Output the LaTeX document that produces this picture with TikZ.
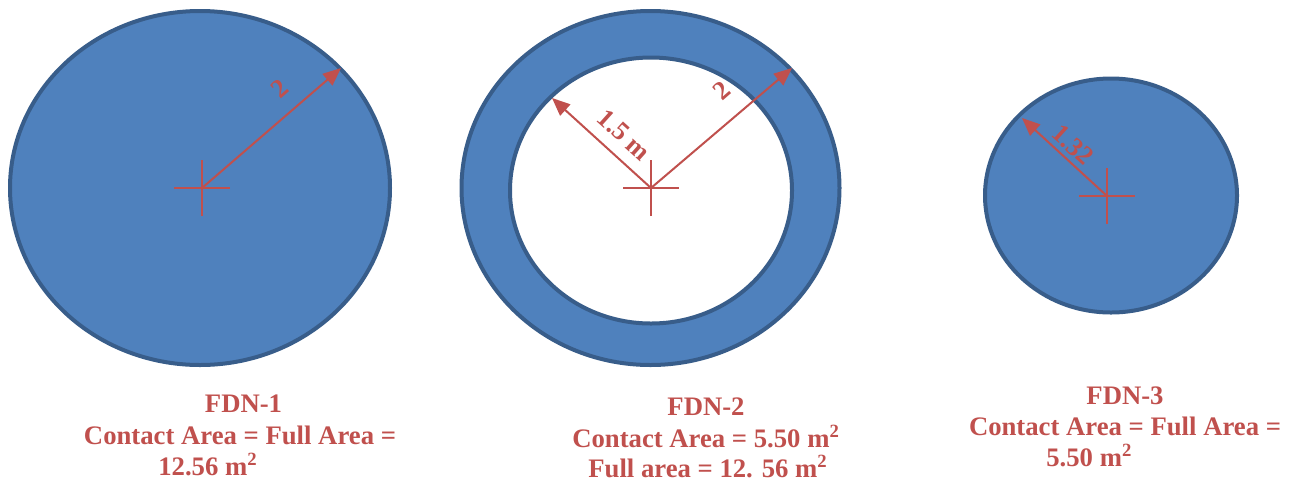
\documentclass[tikz,border=0pt]{standalone}
\usepackage{fontspec}
\setmainfont{Liberation Serif}
\usetikzlibrary{arrows.meta}
\definecolor{fillblue}{HTML}{4F81BD}
\definecolor{edgeblue}{HTML}{385D8A}
\definecolor{txtred}{HTML}{C0504D}
\tikzset{
  disc/.style={fill=fillblue, draw=edgeblue, line width=0.08cm},
  hole/.style={fill=white, draw=edgeblue, line width=0.08cm},
  crossln/.style={draw=txtred, line width=0.03cm},
  radarrow/.style={draw=txtred, line width=0.04cm, -{Triangle[length=0.36cm,width=0.3cm]}},
  dimlbl/.style={text=txtred, font=\bfseries\fontsize{15}{18}\selectfont, inner sep=0pt},
  caption/.style={text=txtred, font=\bfseries\fontsize{15.2}{18}\selectfont, inner sep=0pt},
}
\begin{document}
\begin{tikzpicture}[x=0.02cm, y=-0.02cm]
\useasboundingbox (0,0) rectangle (1294,481);
% shapes
\draw[disc] (200,188) ellipse [x radius=190, y radius=177];
\draw[disc] (650.5,188) ellipse [x radius=189, y radius=177];
\draw[hole] (651,190.5) ellipse [x radius=141, y radius=133];
\draw[disc] (1111,195.5) ellipse [x radius=126, y radius=117];
% centres
\coordinate (c1) at (202,188);
\coordinate (c2) at (651,188);
\coordinate (c3) at (1107,196);
\coordinate (t1) at (341,68);
\coordinate (t2a) at (792,68);
\coordinate (t2b) at (552,98);
\coordinate (t3) at (1022,118);
\foreach \c in {c1,c2,c3}{
  \draw[crossln] ([xshift=-0.56cm]\c) -- ([xshift=0.56cm]\c);
  \draw[crossln] ([yshift=-0.56cm]\c) -- ([yshift=0.56cm]\c);
}
\draw[radarrow] (c1) -- (t1);
\draw[radarrow] (c2) -- (t2a);
\draw[radarrow] (c2) -- (t2b);
\draw[radarrow] (c3) -- (t3);
% dimension labels
\node[dimlbl, rotate=41] (l1) at (280,89) {2};
\node[dimlbl, rotate=41] (l2a) at (722,91) {2};
\node[dimlbl, rotate=-42] (l2b) at (624,135) {1.5 m};
\node[dimlbl, rotate=-42] (l3) at (1073,145) {1.32};
% captions
\node[caption, anchor=base] (f1a) at (243.5,412) {FDN-1};
\node[caption, anchor=base] (f1b) at (240,444) {Contact Area = Full Area =};
\node[caption, anchor=base west] (f1c) at (158,475) {12.56 m\textsuperscript{2}};
\node[caption, anchor=base] (f2a) at (706,415) {FDN-2};
\node[caption, anchor=base] (f2b) at (706,447) {Contact Area = 5.50 m\textsuperscript{2}};
\node[caption, anchor=base] (f2c) at (708,477) {Full area = 12. 56 m\textsuperscript{2}};
\node[caption, anchor=base] (f3a) at (1125,404) {FDN-3};
\node[caption, anchor=base] (f3b) at (1125,435) {Contact Area = Full Area =};
\node[caption, anchor=base west] (f3c) at (1046,466) {5.50 m\textsuperscript{2}};
\end{tikzpicture}
\end{document}
